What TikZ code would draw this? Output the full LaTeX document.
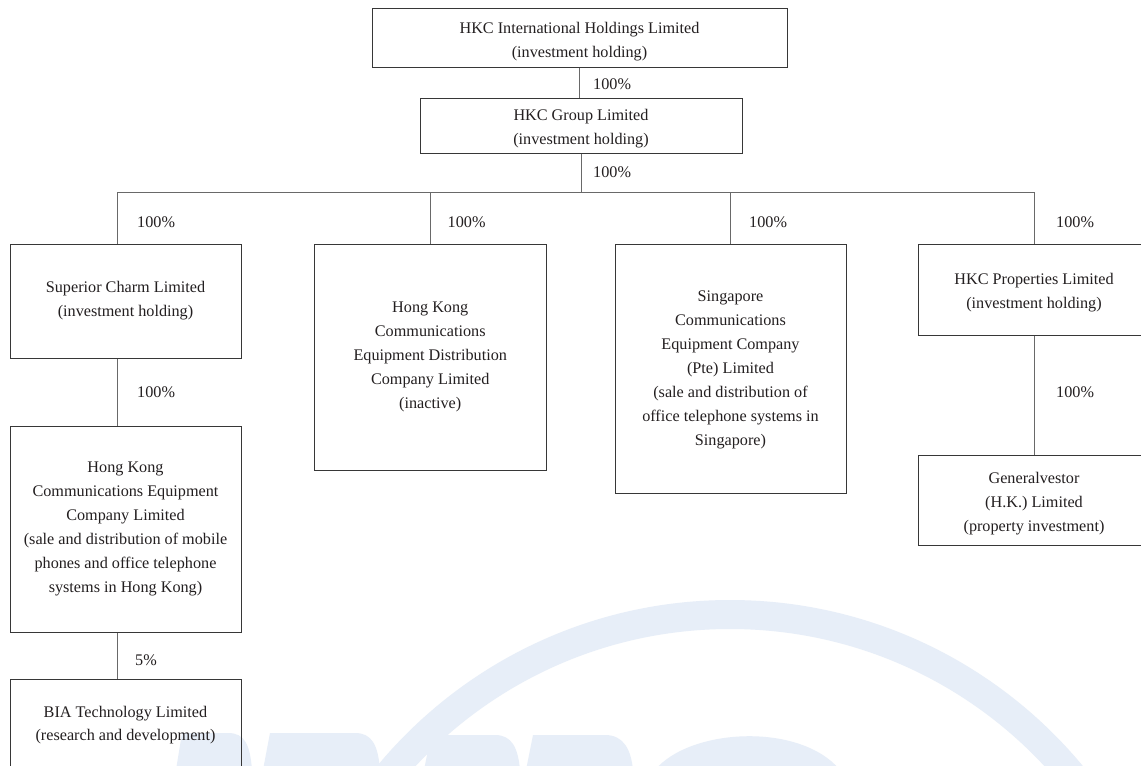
\documentclass[tikz,border=0pt]{standalone}
\usepackage{fontspec}
\setmainfont{Liberation Serif}
\definecolor{wm}{RGB}{231,238,248}
\definecolor{boxc}{RGB}{55,55,55}
\definecolor{linec}{RGB}{105,105,105}
\definecolor{txt}{RGB}{35,31,32}
\newcommand{\topstrut}[1]{\rule{0pt}{#1}}
\begin{document}
\begin{tikzpicture}[x=1pt,y=-1pt,
  box/.style={draw=boxc, line width=1pt, inner sep=0pt, align=center, text=txt,
    font=\fontsize{16.2}{24}\selectfont},
  pct/.style={anchor=west, inner sep=0pt, text=txt, font=\fontsize{16.2}{24}\selectfont},
  conn/.style={draw=linec, line width=1pt}]
\useasboundingbox (0,0) rectangle (1141,766);
\clip (0,0) rectangle (1141,766);
\fill[white] (0,0) rectangle (1141,766);
% watermark
\fill[wm, even odd rule] (730,1058) circle[radius=458pt] (730,1058) circle[radius=429pt];
\fill[wm] (176,770) -- (182,733) -- (228,733) .. controls (245,733) and (250,745) .. (252,770) -- cycle;
\fill[wm] (263,770) -- (270,733) -- (355,733) .. controls (372,733) and (378,745) .. (380,770) -- cycle;
\fill[wm] (424,770) -- (431,735) -- (495,735) .. controls (512,735) and (518,748) .. (520,770) -- cycle;
\fill[wm] (526,770) -- (533,735) -- (605,735) .. controls (624,735) and (631,750) .. (633,770) -- cycle;
\fill[wm] (655,770) .. controls (690,728) and (800,722) .. (840,770) -- cycle;
% boxes
\node[box, minimum width=415, minimum height=59] (b1) at (579.5,37.5)
  {\topstrut{19.5pt}HKC International Holdings Limited\\(investment holding)};
\node[box, minimum width=322, minimum height=55] (b2) at (581,125.5)
  {\topstrut{17.5pt}HKC Group Limited\\(investment holding)};
\node[box, minimum width=231, minimum height=114] (sup) at (125.5,301)
  {Superior Charm Limited\\(investment holding)};
\node[box, minimum width=232.5, minimum height=226] (dist) at (430.25,357)
  {Hong Kong\\Communications\\Equipment Distribution\\Company Limited\\(inactive)};
\node[box, minimum width=231, minimum height=249] (sing) at (730.5,368.5)
  {\topstrut{14pt}Singapore\\Communications\\Equipment Company\\(Pte) Limited\\(sale and distribution of\\office telephone systems in\\Singapore)};
\node[box, minimum width=232, minimum height=91] (prop) at (1034,289.5)
  {\topstrut{18pt}HKC Properties Limited\\(investment holding)};
\node[box, minimum width=232, minimum height=90] (gen) at (1034,500)
  {\topstrut{19pt}Generalvestor\\(H.K.) Limited\\(property investment)};
\node[box, minimum width=231, minimum height=206] (hkce) at (125.5,529)
  {Hong Kong\\Communications Equipment\\Company Limited\\(sale and distribution of mobile\\phones and office telephone\\systems in Hong Kong)};
\node[box, minimum width=231, minimum height=89, font=\fontsize{16.2}{22.7}\selectfont] (bia) at (125.5,723.5)
  {\topstrut{14pt}BIA Technology Limited\\(research and development)};
% connectors
\coordinate (busL) at (117,192);
\coordinate (busC) at (b2.south |- busL);
\coordinate (busR) at (prop.north |- busL);
\draw[conn] (b1.south) -- (b1.south |- b2.north);
\draw[conn] (b2.south) -- (busC);
\draw[conn] (busL) -- (busR);
\draw[conn] (busL) -- (busL |- sup.north);
\draw[conn] (dist.north |- busL) -- (dist.north);
\draw[conn] (sing.north |- busL) -- (sing.north);
\draw[conn] (busR) -- (prop.north);
\draw[conn] (busL |- sup.south) -- (busL |- hkce.north);
\draw[conn] (busL |- hkce.south) -- (busL |- bia.north);
\draw[conn] (prop.south) -- (gen.north);
% labels
\node[pct] (p1) at (593,84) {100\%};
\node[pct] (p2) at (593,172) {100\%};
\node[pct] (p3) at (137,222) {100\%};
\node[pct] (p4) at (447.5,222) {100\%};
\node[pct] (p5) at (749,222) {100\%};
\node[pct] (p6) at (1056,222) {100\%};
\node[pct] (p7) at (137,392) {100\%};
\node[pct] (p8) at (1056,392) {100\%};
\node[pct] (p9) at (135,660) {5\%};
\end{tikzpicture}
\end{document}
